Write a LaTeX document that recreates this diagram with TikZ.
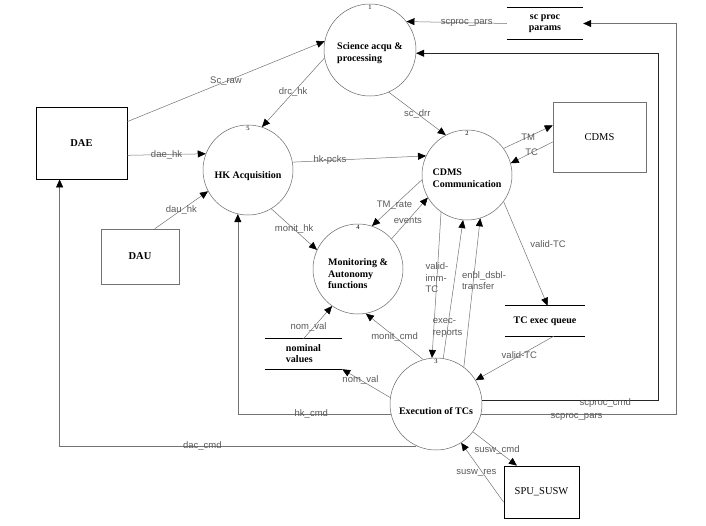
\documentclass[tikz,border=0pt]{standalone}
\usepackage{fontspec}
\setmainfont{Liberation Serif}
\setsansfont{Liberation Sans}
\usepackage{tikz}
\usetikzlibrary{positioning,arrows.meta,calc}

\begin{document}
\begin{tikzpicture}[
  x=1pt, y=-1pt,
  every node/.style={font=\small},
  proc/.style={draw=black!60, line width=.5pt, circle, minimum size=91pt, inner sep=0pt},
  ptxt/.style={align=left, inner sep=0pt, font=\bfseries\fontsize{10}{11.5}\selectfont},
  ext/.style={draw=black!55, line width=.5pt, inner sep=0pt, font=\fontsize{10.5}{12}\selectfont},
  store/.style={inner sep=0pt, align=left, font=\bfseries\fontsize{10}{11}\selectfont},
  rim/.style={line width=.8pt},
  num/.style={inner sep=0pt, font=\fontsize{6.5}{7}\selectfont},
  lbl/.style={inner sep=.5pt, text=black!65, font=\sffamily\fontsize{9.5}{11.5}\selectfont},
  flow/.style={draw=black!55, line width=.5pt, -{Triangle[length=8pt,width=7pt,color=black]}},
]
\useasboundingbox (0,0) rectangle (706,525);

% processes
\node[proc, minimum size=92pt] (sci) at (370,50) {};
\node[proc, minimum size=90pt] (hk) at (248,170) {};
\node[proc, minimum size=90pt] (comm) at (467,175) {};
\node[proc, minimum size=90pt] (mon) at (358,269) {};
\node[proc, minimum size=92pt] (exe) at (436,404) {};
\node[ptxt] at ([yshift=-3pt]sci.center) {Science acqu \&\\processing};
\node[ptxt] at ([yshift=-6pt]hk.center) {HK Acquisition};
\node[ptxt] at ([yshift=-3pt]comm.center) {CDMS\\Communication};
\node[ptxt] at ([yshift=-5pt]mon.center) {Monitoring \&\\Autonomy\\functions};
\node[ptxt] at ([yshift=-7pt]exe.center) {Execution of TCs};
\node[num, below=1pt of sci.north] {1};
\node[num, below=1pt of comm.north] {2};
\node[num, below=1pt of exe.north] {3};
\node[num, below=1pt of mon.north] {4};
\node[num, below=1pt of hk.north] {5};

% terminators
\node[ext, draw=black, rim, minimum width=91pt, minimum height=72pt, font=\bfseries\fontsize{10.5}{12}\selectfont] (dae) at (81.5,143) {DAE};
\node[ext, minimum width=78pt, minimum height=55pt, font=\bfseries\fontsize{10.5}{12}\selectfont] (dau) at (140,256.5) {DAU};
\node[ext, minimum width=93pt, minimum height=70pt] (cdms) at (599.5,137) {CDMS};
\node[ext, draw=black, rim, minimum width=75pt, minimum height=52pt] (spu) at (541.5,492) {SPU\_SUSW};

% stores
\node[store, align=center, minimum width=76pt, minimum height=31pt] (scpar) at (545,23.5) {sc proc\\params};
\node[store, minimum width=80pt, minimum height=30pt] (tcq) at (545,321) {TC exec queue};
\node[store, minimum width=77pt, minimum height=30pt] (nomval) at (303.5,354) {nominal\\values};
\foreach \s in {scpar,tcq,nomval}
  \draw[rim] (\s.north west) -- (\s.north east) (\s.south west) -- (\s.south east);

\coordinate (cmdx) at (658,0);
\coordinate (parx) at (676,0);

% flows
\draw[flow] (scpar.west) -- node[lbl, pos=.4]{scproc\_pars} (sci.38);
\draw[flow, draw=black!85] (exe.5) -- node[lbl, pos=.7, yshift=-3pt]{scproc\_cmd} (cmdx |- exe.5) -- (cmdx |- sci.-4) -- (sci.-4);
\draw[flow] (exe.-13) -- node[lbl, pos=.49, yshift=-3pt]{scproc\_pars} (parx |- exe.-13) -- (parx |- scpar.east) -- (scpar.east);
\draw[flow] (dae.25) -- node[lbl]{Sc\_raw} (sci.169);
\draw[flow] (sci.-170) -- node[lbl]{drc\_hk} (hk.72);
\draw[flow] (sci.-66) -- node[lbl]{sc\_drr} (comm.118);
\draw[flow] (dae.-15) -- node[lbl]{dae\_hk} (hk.159);
\draw[flow] (dau.62) -- node[lbl]{dau\_hk} (hk.-152);
\draw[flow] (hk.10) -- node[lbl, pos=.28]{hk-pcks} (comm.155);
\draw[flow] (comm.36) -- node[lbl]{TM} (cdms.166);
\draw[flow] (cdms.-174) -- node[lbl]{TC} (comm.15);
\draw[flow] (hk.-59) -- node[lbl]{monit\_hk} (mon.155);
\draw[flow] (comm.-174) -- node[lbl, pos=.55]{TM\_rate} (mon.72);
\draw[flow] (mon.42) -- node[lbl, pos=.45]{events} (comm.-150);
\draw[flow] (comm.-125) -- node[lbl, align=left, pos=.45]{valid-\\imm-\\TC} (exe.95);
\draw[flow] (exe.81) -- node[lbl, align=left, pos=.22]{exec-\\reports} (comm.-95);
\draw[flow] (exe.53) -- node[lbl, align=left, pos=.58, anchor=west, xshift=-12pt]{enbl\_dsbl-\\transfer} (comm.-73);
\draw[flow] (comm.-36) -- node[lbl, pos=.41, anchor=west, xshift=8pt]{valid-TC} (tcq.80);
\draw[flow] (tcq.-60) -- node[lbl, pos=.44]{valid-TC} (exe.31);
\draw[flow] (exe.106) -- node[lbl]{monit\_cmd} (mon.-80);
\draw[flow] (exe.172) -- node[lbl, pos=.62]{nom\_val} (nomval.south east);
\draw[flow] (nomval.north) -- node[lbl, pos=.35, xshift=-5pt]{nom\_val} (mon.-125);
\draw[flow] (exe.-167) -| node[lbl, pos=.26]{hk\_cmd} (hk.-103);
\draw[flow] (exe.-115) -| node[lbl, pos=.3]{dac\_cmd} (dae.-121);
\draw[flow] (exe.-37) -- node[lbl, pos=.55]{susw\_cmd} (spu.133);
\draw[flow] (spu.-165) -- node[lbl, xshift=-6pt]{susw\_res} (exe.-57);
\end{tikzpicture}
\end{document}
